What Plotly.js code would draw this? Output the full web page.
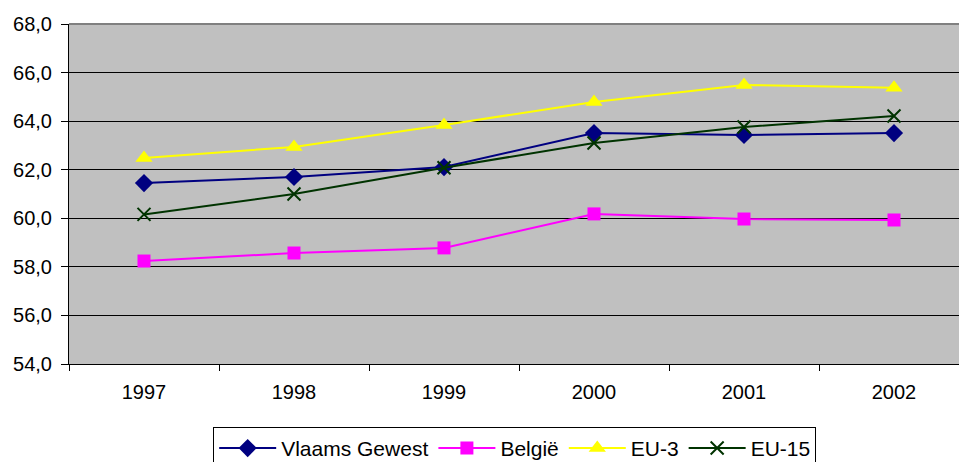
<!DOCTYPE html>
<html>
<head>
<meta charset="utf-8">
<script src="https://cdn.plot.ly/plotly-3.0.1.min.js"></script>
<style>html,body{margin:0;padding:0;background:#fff;}#chart{width:959px;height:462px;}</style>
</head>
<body>
<div id="chart"></div>
<script>
const years = ["1997", "1998", "1999", "2000", "2001", "2002"];
const vlaamsGewest = [61.45, 61.70, 62.11, 63.51, 63.43, 63.51];
const belgie = [58.24, 58.57, 58.78, 60.18, 59.97, 59.93];
const eu3 = [62.48, 62.94, 63.84, 64.79, 65.49, 65.37];
const eu15 = [60.16, 61.00, 62.08, 63.10, 63.76, 64.21];
const seriesNames = ["Vlaams Gewest", "België", "EU-3", "EU-15"];

const traces = [
  {x: years, y: vlaamsGewest, name: seriesNames[0], type: 'scatter', mode: 'lines+markers',
   line: {color: '#000080', width: 2}, marker: {symbol: 'diamond', size: 14, color: '#000080'}},
  {x: years, y: belgie, name: seriesNames[1], type: 'scatter', mode: 'lines+markers',
   line: {color: '#FF00FF', width: 2}, marker: {symbol: 'square', size: 13, color: '#FF00FF'}},
  {x: years, y: eu3, name: seriesNames[2], type: 'scatter', mode: 'lines+markers',
   line: {color: '#FFFF00', width: 2}, marker: {symbol: 'triangle-up', size: 15, color: '#FFFF00'}},
  {x: years, y: eu15, name: seriesNames[3], type: 'scatter', mode: 'lines+markers',
   line: {color: '#003300', width: 2}, marker: {symbol: 'x-thin', size: 13, line: {color: '#003300', width: 2}}}
];

const layout = {
  width: 959, height: 462,
  margin: {l: 69, r: 0, t: 24, b: 98, pad: 0, autoexpand: false},
  paper_bgcolor: '#FFFFFF',
  plot_bgcolor: '#C0C0C0',
  font: {family: 'Arial, "Liberation Sans", sans-serif', size: 20, color: '#000000'},
  separators: ',.',
  showlegend: true,
  xaxis: {
    type: 'category',
    range: [-0.5, 5.4333],
    tickson: 'boundaries',
    ticks: 'outside', ticklen: 6, tickcolor: '#000', tickwidth: 1,
    tickfont: {size: 20},
    showline: true, linecolor: '#000', linewidth: 1,
    showgrid: false, zeroline: false,
    ticklabelstandoff: 10,
    automargin: false,
    fixedrange: true
  },
  yaxis: {
    range: [54, 68], dtick: 2, tick0: 54,
    tickformat: '.1f',
    ticks: 'outside', ticklen: 7, tickcolor: '#000', tickwidth: 1,
    tickfont: {size: 20},
    showline: true, linecolor: '#000', linewidth: 1,
    showgrid: true, gridcolor: '#000000', gridwidth: 1,
    zeroline: false,
    ticklabelstandoff: 5,
    automargin: false,
    fixedrange: true
  },
  shapes: [
    {type: 'line', xref: 'paper', yref: 'paper', x0: 0, x1: 1, y0: 1, y1: 1,
     line: {color: '#808080', width: 2}}
  ],
  legend: {
    orientation: 'h',
    x: 0.162, xanchor: 'left',
    y: -0.185, yanchor: 'top',
    bgcolor: '#FFFFFF', bordercolor: '#000000', borderwidth: 1,
    font: {size: 21},
    itemwidth: 57,
    itemclick: false, itemdoubleclick: false,
    tracegroupgap: 0
  }
};

Plotly.newPlot('chart', traces, layout, {displayModeBar: false, staticPlot: true});
</script>
</body>
</html>
